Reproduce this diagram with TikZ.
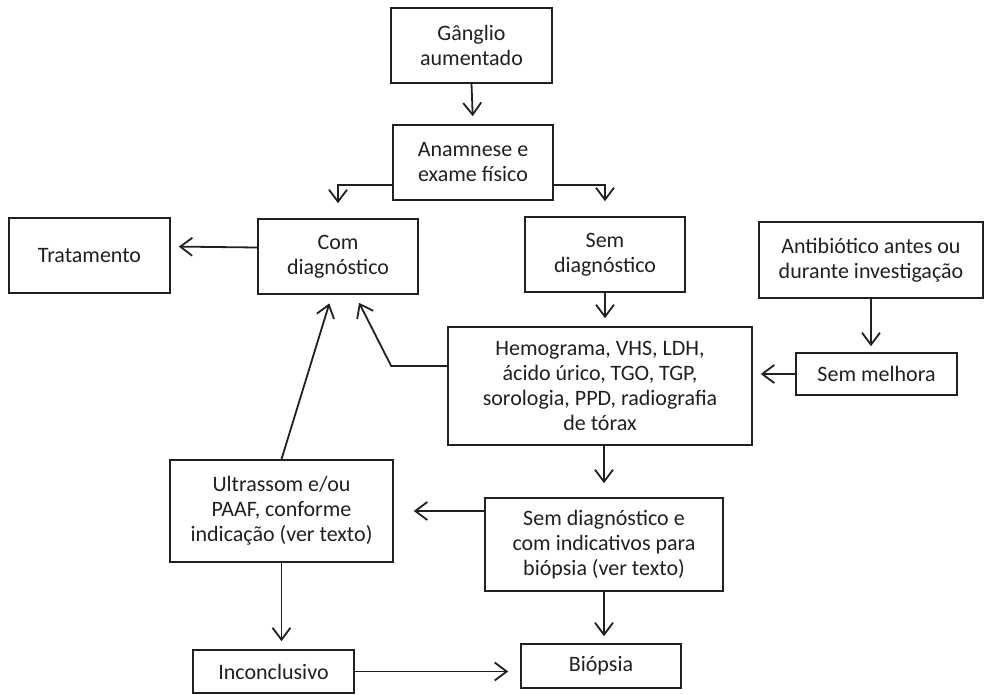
\documentclass[tikz,border=0pt]{standalone}
\usepackage{fontspec}
\setmainfont{Carlito}
\usetikzlibrary{arrows.meta}
\definecolor{flowLine}{HTML}{231F20}

\begin{document}
\begin{tikzpicture}[x=1pt, y=-1pt,
  box/.style={draw=flowLine, line width=1.6pt, align=center, inner sep=2pt,
    text=flowLine, font=\fontsize{22}{25}\selectfont},
  arr/.style={draw=flowLine, line width=1.8pt,
    -{Straight Barb[length=12pt,width=18pt]}, shorten >=8pt},
]

% --- CANVAS (pixel units of the figure) ---
\useasboundingbox (0,0) rectangle (985,694);

% --- NODES ---
\node[box, minimum width=161, minimum height=75] (gang)  at (471.5,45.5) {Gânglio\\aumentado};
\node[box, minimum width=160, minimum height=75] (anam)  at (473,162.5)  {Anamnese e\\exame físico};
\node[box, minimum width=160, minimum height=75] (com)   at (338,256.5)  {Com\\diagnóstico};
\node[box, minimum width=160, minimum height=75] (semd)  at (605,254.5)  {Sem\\diagnóstico};
\node[box, minimum width=161, minimum height=75] (trat)  at (89.5,255.5) {Tratamento};
\node[box, minimum width=224, minimum height=76] (anti)  at (871,260)    {Antibiótico antes ou\\durante investigação};
\node[box, minimum width=304, minimum height=118] (hemo) at (600,386)
  {Hemograma, VHS, LDH,\\ácido úrico, TGO, TGP,\\sorologia, PPD, radiografia\\de tórax};
\node[box, minimum width=161, minimum height=42] (semm)  at (876.5,374)  {Sem melhora};
\node[box, minimum width=223, minimum height=102] (ultra) at (281.5,511)
  {Ultrassom e/ou\\PAAF, conforme\\indicação (ver texto)};
\node[box, minimum width=238, minimum height=93] (sdi)   at (604,544.5)
  {Sem diagnóstico e\\com indicativos para\\biópsia (ver texto)};
\node[box, minimum width=161, minimum height=43] (inc)   at (273.5,671.5) {Inconclusivo};
\node[box, minimum width=160, minimum height=44] (biop)  at (601,666)    {Biópsia};

% --- CONNECTORS ---
\draw[arr] (gang.south) -- (anam.north);
\draw[arr, shorten >=15pt] ([yshift=16pt]anam.south west) -| (com.north);
\draw[arr, shorten >=15pt] ([yshift=16pt]anam.south east) -| (semd.north);
\draw[arr] ([yshift=9pt]com.west) -- ([yshift=9pt]trat.east);
\draw[arr] (semd.south) -- (semd.south |- hemo.north);
\draw[arr, shorten >=6pt] (anti.south) -- (anti.south |- semm.north);
\draw[arr] (semm.west) -- (semm.west -| hemo.east);
\draw[arr, shorten >=9pt] ([yshift=20pt]hemo.west) -- ++(-56,0) -- ([xshift=17pt]com.south);
\draw[arr, shorten >=9pt] (ultra.north) -- ([xshift=-6pt]com.south);
\draw[arr, shorten >=14pt] (sdi.north |- hemo.south) -- (sdi.north);
\draw[arr, shorten >=20pt] (ultra.east -| sdi.west) -- (ultra.east);
\draw[arr] (ultra.south) -- (ultra.south |- inc.north);
\draw[arr, shorten >=7pt] (sdi.south) -- (sdi.south |- biop.north);
\draw[arr, shorten >=12pt] (inc.east) -- (inc.east -| biop.west);

\end{tikzpicture}
\end{document}
